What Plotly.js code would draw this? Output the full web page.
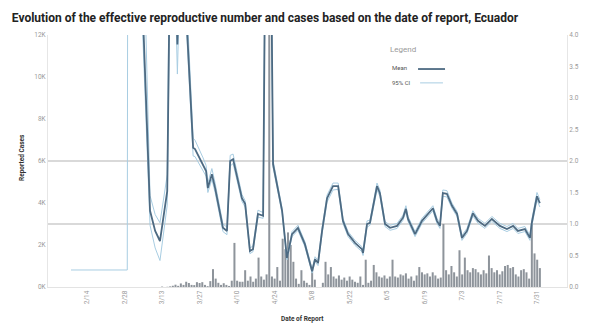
<!DOCTYPE html>
<html><head><meta charset="utf-8">
<script src="https://cdn.plot.ly/plotly-3.0.1.min.js"></script>
<style>html,body{margin:0;padding:0;background:#fff;}#chart{width:590px;height:324px;}</style>
</head><body><div id="chart"></div>
<script>
// Daily reported cases, starting 2020-03-01
const caseStart = '2020-03-01';
const cases = [
 0,0,0,0,0,0,0,0,0,0,0,0,20,0,10,30,60,110,55,170,100,250,190,100,90,230,190,230,100,40,280,
 850,400,200,100,180,100,50,300,2100,300,250,250,800,300,500,250,400,1400,500,350,600,12800,500,400,950,300,2300,1800,2600,2000,
 1200,400,150,800,300,200,100,800,350,0,0,200,1200,600,950,500,400,550,350,450,300,500,350,250,200,500,100,1300,200,300,1050,
 700,500,450,550,400,500,1300,500,450,600,550,650,400,500,300,550,950,700,600,650,500,700,550,400,450,3000,800,600,1000,700,
 500,1750,600,1400,800,700,900,850,700,600,800,650,1500,900,700,800,600,750,1000,1050,900,950,600,500,800,850,700,400,3000,1600,1300,
 900
];
const meanDates = ['2020-03-04','2020-03-08 12:00','2020-03-10 10:00','2020-03-12 05:00','2020-03-14 22:00','2020-03-16','2020-03-17 12:00','2020-03-18 17:00','2020-03-20','2020-03-22 08:00',
 '2020-03-24 14:00','2020-03-25 07:00','2020-03-28 07:00','2020-03-29 10:00','2020-03-30 02:00','2020-03-31 14:00','2020-04-01 19:00','2020-04-04 17:00','2020-04-06 05:00','2020-04-07 10:00',
 '2020-04-08 12:00','2020-04-11 19:00','2020-04-13','2020-04-14 19:00','2020-04-15 22:00','2020-04-17 19:00','2020-04-19 17:00','2020-04-20 19:00','2020-04-22 07:00','2020-04-23 10:00',
 '2020-04-26 19:00','2020-04-28 14:00','2020-04-30 12:00','2020-05-02 17:00','2020-05-05 07:00','2020-05-08','2020-05-09 02:00','2020-05-10 05:00','2020-05-11 17:00','2020-05-13 14:00',
 '2020-05-15 19:00','2020-05-17 17:00','2020-05-19 12:00','2020-05-21 10:00','2020-05-24','2020-05-26 14:00','2020-05-27','2020-05-28 12:00','2020-05-29 14:00','2020-06-01 05:00',
 '2020-06-02 07:00','2020-06-04 05:00','2020-06-06 02:00','2020-06-08 17:00','2020-06-10 22:00','2020-06-12','2020-06-12 19:00','2020-06-15 10:00','2020-06-18','2020-06-20 05:00',
 '2020-06-22 02:00','2020-06-23 14:00','2020-06-24 17:00','2020-06-25 19:00','2020-06-27 07:00','2020-06-29 05:00','2020-07-01 02:00','2020-07-02 22:00','2020-07-04 19:00','2020-07-07',
 '2020-07-08 22:00','2020-07-11 12:00','2020-07-14 02:00','2020-07-17 02:00','2020-07-19 17:00','2020-07-22','2020-07-23 19:00','2020-07-26 10:00','2020-07-28 07:00','2020-07-29',
 '2020-07-30 22:00','2020-08-01'];
const meanR = [6.5,1.21,0.89,0.73,1.52,5.5,6,3.85,6,4.1,
 2.21,2.19,1.95,1.84,1.57,1.79,1.57,0.94,0.89,2.00,
 2.03,1.41,1.32,0.57,0.60,1.16,1.13,7,7,1.95,
 1.21,0.46,0.84,0.94,0.68,0.25,0.44,0.38,0.89,1.41,
 1.60,1.60,1.05,0.84,0.70,0.60,0.54,1.00,1.02,1.60,
 1.49,1.00,0.94,0.97,1.10,1.24,1.08,0.84,1.05,1.16,
 1.25,1.05,0.97,1.49,1.48,1.29,1.16,0.78,0.89,1.17,
 1.05,0.97,1.08,0.97,0.92,0.97,0.89,0.92,0.78,1.02,
 1.44,1.33];
const ciStartDates = ['2020-02-08','2020-02-29','2020-02-29 06:00'];
const ciStartVals = [0.27,0.27,8];
const ciLow = [6.0,0.98,0.62,0.42,1.30,5.0,5.5,3.38,5.5,3.9,
 2.08,2.07,1.86,1.76,1.50,1.71,1.50,0.88,0.83,1.92,
 1.96,1.36,1.27,0.53,0.56,1.11,1.09,6.5,6.5,1.90,
 1.17,0.43,0.80,0.90,0.64,0.22,0.40,0.34,0.84,1.35,
 1.54,1.55,1.01,0.80,0.66,0.56,0.50,0.95,0.98,1.54,
 1.44,0.96,0.90,0.93,1.06,1.19,1.04,0.80,1.01,1.12,
 1.21,1.01,0.93,1.44,1.43,1.25,1.12,0.74,0.85,1.13,
 1.01,0.93,1.04,0.93,0.88,0.93,0.85,0.88,0.74,0.97,
 1.38,1.27];
const ciHigh = [9,1.45,1.15,1.02,1.78,6.5,7,4.4,7,4.4,
 2.36,2.33,2.05,1.93,1.65,1.88,1.65,1.00,0.95,2.09,
 2.11,1.47,1.37,0.62,0.65,1.22,1.18,7.5,7.5,2.01,
 1.25,0.50,0.88,0.98,0.72,0.29,0.48,0.42,0.94,1.46,
 1.65,1.65,1.09,0.88,0.74,0.64,0.58,1.05,1.06,1.65,
 1.54,1.04,0.98,1.01,1.14,1.29,1.12,0.88,1.09,1.20,
 1.29,1.09,1.01,1.54,1.53,1.33,1.20,0.82,0.93,1.21,
 1.09,1.01,1.12,1.01,0.96,1.01,0.93,0.96,0.82,1.07,
 1.50,1.39];
const dateTicks = ['2020-02-14','2020-02-28','2020-03-13','2020-03-27','2020-04-10','2020-04-24','2020-05-08','2020-05-22','2020-06-05','2020-06-19','2020-07-03','2020-07-17','2020-07-31'];
const caseTickVals = [0,2000,4000,6000,8000,10000,12000];
const caseTickText = ['0K','2K','4K','6K','8K','10K','12K'];
const rTickVals = [0,0.5,1,1.5,2,2.5,3,3.5,4];
const rTickText = ['0.0','0.5','1.0','1.5','2.0','2.5','3.0','3.5','4.0'];

// category dates for bars
const caseDates = [];
{ const d0 = new Date(caseStart + 'T00:00:00Z');
  for (let i = 0; i < cases.length; i++) { const d = new Date(d0.getTime() + i*86400000); caseDates.push(d.toISOString().slice(0,10)); } }

const meanColor = '#4d6a82', ciColor = '#a8cde2';
const traces = [
 {type:'bar', x:caseDates, y:cases, name:'Reported cases', marker:{color:'#8e949b'}, yaxis:'y', hoverinfo:'x+y'},
 {type:'scatter', mode:'lines', x:ciStartDates.concat(meanDates), y:ciStartVals.concat(ciLow), name:'95% CI', line:{color:ciColor, width:1}, yaxis:'y2'},
 {type:'scatter', mode:'lines', x:meanDates, y:ciHigh, name:'95% CI upper', line:{color:ciColor, width:1}, yaxis:'y2'},
 {type:'scatter', mode:'lines', x:meanDates, y:meanR, name:'Mean', line:{color:meanColor, width:1.8}, yaxis:'y2'}
];
const tf = {family:'Roboto, Arial, sans-serif', size:6.5, color:'#9a9a9a'};
const layout = {
 width:590, height:324, margin:{l:48, r:23, t:35, b:37},
 paper_bgcolor:'#fff', plot_bgcolor:'#fff', showlegend:false, bargap:0.25,
 title:{text:'<b>Evolution of the effective reproductive number and cases based on the date of report, Ecuador</b>',
   x:0.02, xanchor:'left', y:0.945, yanchor:'middle', font:{family:'Roboto, Arial, sans-serif', size:12, color:'#222'}},
 xaxis:{type:'date', range:['2020-01-30 10:00','2020-08-11 03:00'], tickvals:dateTicks,
   tickformat:'%-m/%-d', tickangle:-90, tickfont:tf, showgrid:false, zeroline:false, showline:true, linecolor:'#e3e3e3', ticks:''},
 yaxis:{range:[0,12000], tickvals:caseTickVals, ticktext:caseTickText, tickfont:tf, showgrid:false, zeroline:false,
   showline:true, linecolor:'#e6e6e6', ticks:''},
 yaxis2:{overlaying:'y', side:'right', range:[0,4], tickvals:rTickVals, ticktext:rTickText, tickfont:tf, showgrid:false,
   zeroline:false, showline:true, linecolor:'#e6e6e6', ticks:''},
 shapes:[
  {type:'line', xref:'paper', x0:0, x1:1, yref:'y2', y0:2, y1:2, line:{color:'#cccccc', width:1.5}, layer:'below'},
  {type:'line', xref:'paper', x0:0, x1:1, yref:'y2', y0:1, y1:1, line:{color:'#cccccc', width:1.5}, layer:'below'},
  {type:'line', xref:'paper', yref:'paper', x0:0.713, x1:0.765, y0:0.865, y1:0.865, line:{color:meanColor, width:1.8}},
  {type:'line', xref:'paper', yref:'paper', x0:0.717, x1:0.761, y0:0.81, y1:0.81, line:{color:ciColor, width:1}}
 ],
 annotations:[
  {text:'Legend', xref:'paper', yref:'paper', x:0.655, y:0.944, xanchor:'left', yanchor:'middle', showarrow:false, font:{family:'Roboto, Arial, sans-serif', size:8, color:'#999'}},
  {text:'Mean', xref:'paper', yref:'paper', x:0.659, y:0.873, xanchor:'left', yanchor:'middle', showarrow:false, font:{family:'Roboto, Arial, sans-serif', size:6, color:'#555'}},
  {text:'95% CI', xref:'paper', yref:'paper', x:0.659, y:0.81, xanchor:'left', yanchor:'middle', showarrow:false, font:{family:'Roboto, Arial, sans-serif', size:6, color:'#555'}},
  {text:'<b>Reported Cases</b>', xref:'paper', yref:'paper', x:-0.05, y:0.512, xanchor:'center', yanchor:'middle', textangle:-90, showarrow:false, font:{family:'Roboto, Arial, sans-serif', size:6.5, color:'#333'}},
  {text:'<b>Date of Report</b>', xref:'paper', yref:'paper', x:0.491, y:-0.127, xanchor:'center', yanchor:'middle', showarrow:false, font:{family:'Roboto, Arial, sans-serif', size:6.5, color:'#333'}}
 ]
};
Plotly.newPlot('chart', traces, layout, {staticPlot:true, displayModeBar:false});
</script></body></html>
